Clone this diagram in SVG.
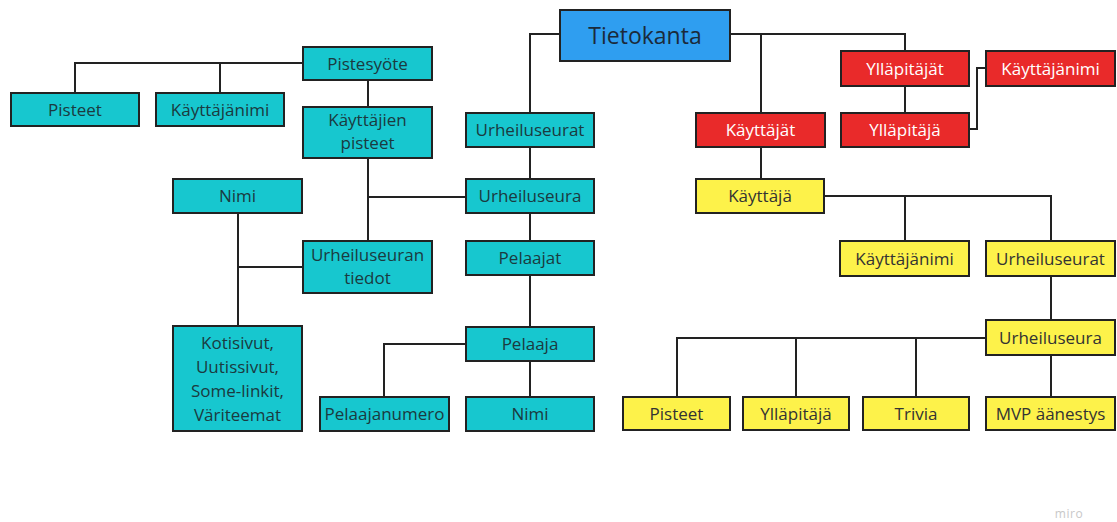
<svg xmlns="http://www.w3.org/2000/svg" width="1117" height="522" viewBox="0 0 1117 522">
<style>
.n rect{stroke:#222;stroke-width:2}
.t rect{fill:#17c7cf}
.r rect{fill:#e92a2a}
.y rect{fill:#fdf24a}
.b rect{fill:#2f9ef0}
text{font-family:"Open Sans","Liberation Sans",sans-serif;font-size:17px;text-anchor:middle}
.t text{fill:#1b3a40}
.r text{fill:#ffffff}
.y text{fill:#333333}
.b text{fill:#1b2a3a;font-size:23px}
#edges path{fill:none;stroke:#222;stroke-width:2}
</style>
<rect width="1117" height="522" fill="#ffffff"/>
<g id="edges">
<path d="M303 63H75V93M220 63V93"/>
<path d="M368 80V107"/>
<path d="M368 158V241M368 197H466"/>
<path d="M238 213V326M238 267H303"/>
<path d="M560 34H530V113M530 147V179M530 213V241M530 275V327M530 361V397"/>
<path d="M466 344H384V397"/>
<path d="M730 34H905V51M761 34V113M761 147V179M905 86V113"/>
<path d="M969 129H977V68H986"/>
<path d="M824 196H1051V241M905 196V241"/>
<path d="M1051 276V320M1051 355V397"/>
<path d="M986 338H677V397M796 338V397M916 338V397"/>
</g>
<g id="tietokanta" class="n b"><rect x="560" y="10" width="170" height="51"/><text x="645" y="44">Tietokanta</text></g>
<g id="pistesyote" class="n t"><rect x="303" y="47" width="129" height="33"/><text x="367.5" y="69.5">Pistesyöte</text></g>
<g id="pisteet1" class="n t"><rect x="11" y="93" width="128" height="33"/><text x="75" y="115.5">Pisteet</text></g>
<g id="kayttajanimi1" class="n t"><rect x="156" y="93" width="128" height="33"/><text x="220" y="115.5">Käyttäjänimi</text></g>
<g id="kayttajien-pisteet" class="n t"><rect x="303" y="107" width="129" height="51"/><text x="367.5" y="126">Käyttäjien</text><text x="367.5" y="149">pisteet</text></g>
<g id="nimi1" class="n t"><rect x="173" y="179" width="129" height="34"/><text x="237.5" y="202">Nimi</text></g>
<g id="urheiluseuran-tiedot" class="n t"><rect x="303" y="241" width="129" height="52"/><text x="367.5" y="261">Urheiluseuran</text><text x="367.5" y="284">tiedot</text></g>
<g id="kotisivut" class="n t"><rect x="173" y="326" width="129" height="105"/><text x="237.5" y="349">Kotisivut,</text><text x="237.5" y="373">Uutissivut,</text><text x="237.5" y="397">Some-linkit,</text><text x="237.5" y="421">Väriteemat</text></g>
<g id="urheiluseurat1" class="n t"><rect x="466" y="113" width="128" height="34"/><text x="530" y="136">Urheiluseurat</text></g>
<g id="urheiluseura1" class="n t"><rect x="466" y="179" width="128" height="34"/><text x="530" y="202">Urheiluseura</text></g>
<g id="pelaajat" class="n t"><rect x="466" y="241" width="128" height="34"/><text x="530" y="264">Pelaajat</text></g>
<g id="pelaaja" class="n t"><rect x="466" y="327" width="128" height="34"/><text x="530" y="350">Pelaaja</text></g>
<g id="pelaajanumero" class="n t"><rect x="320" y="397" width="129" height="34"/><text x="384.5" y="420">Pelaajanumero</text></g>
<g id="nimi2" class="n t"><rect x="466" y="397" width="128" height="34"/><text x="530" y="420">Nimi</text></g>
<g id="kayttajat" class="n r"><rect x="696" y="113" width="129" height="34"/><text x="760.5" y="136">Käyttäjät</text></g>
<g id="yllapitajat" class="n r"><rect x="841" y="51" width="128" height="35"/><text x="905" y="74.5">Ylläpitäjät</text></g>
<g id="yllapitaja1" class="n r"><rect x="841" y="113" width="128" height="34"/><text x="905" y="136">Ylläpitäjä</text></g>
<g id="kayttajanimi-red" class="n r"><rect x="986" y="51" width="129" height="35"/><text x="1050.5" y="74.5">Käyttäjänimi</text></g>
<g id="kayttaja" class="n y"><rect x="696" y="179" width="128" height="34"/><text x="760" y="202">Käyttäjä</text></g>
<g id="kayttajanimi2" class="n y"><rect x="840" y="241" width="129" height="35"/><text x="904.5" y="264.5">Käyttäjänimi</text></g>
<g id="urheiluseurat2" class="n y"><rect x="986" y="241" width="129" height="35"/><text x="1050.5" y="264.5">Urheiluseurat</text></g>
<g id="urheiluseura2" class="n y"><rect x="986" y="320" width="129" height="35"/><text x="1050.5" y="343.5">Urheiluseura</text></g>
<g id="pisteet2" class="n y"><rect x="623" y="397" width="107" height="33"/><text x="676.5" y="419.5">Pisteet</text></g>
<g id="yllapitaja2" class="n y"><rect x="743" y="397" width="106" height="33"/><text x="796" y="419.5">Ylläpitäjä</text></g>
<g id="trivia" class="n y"><rect x="863" y="397" width="106" height="33"/><text x="916" y="419.5">Trivia</text></g>
<g id="mvp" class="n y"><rect x="986" y="397" width="129" height="33"/><text x="1050.5" y="419.5">MVP äänestys</text></g>
<text x="1069" y="518" style="font-size:12px;fill:#c8c8c8;letter-spacing:0.5px">miro</text>
</svg>
